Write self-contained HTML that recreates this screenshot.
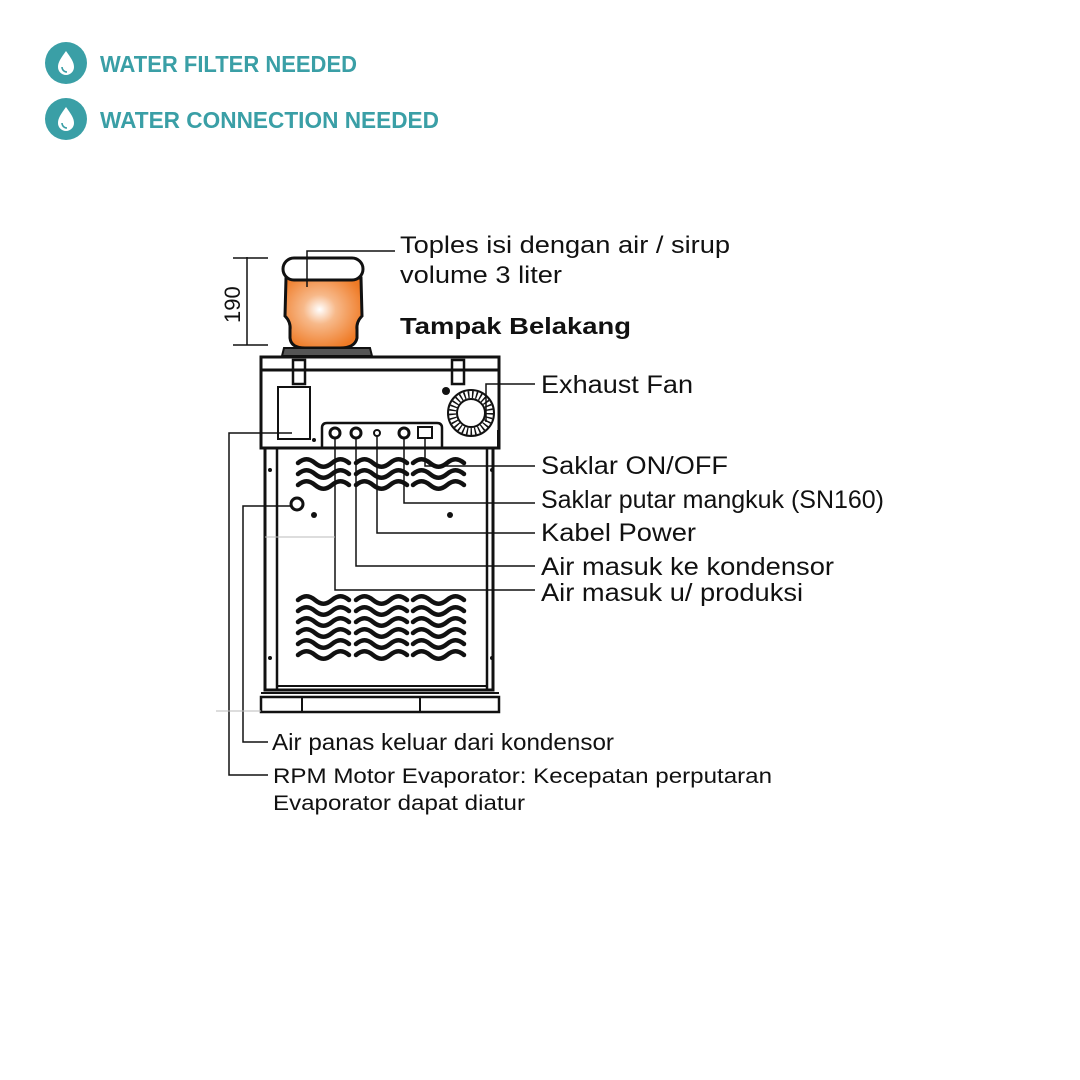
<!DOCTYPE html>
<html><head><meta charset="utf-8"><style>
html,body{margin:0;padding:0;background:#fff}
svg{display:block}
.t{font-family:"Liberation Sans",Arial,sans-serif;fill:#111}
.h{font-family:"Liberation Sans",sans-serif;font-weight:bold;fill:#3a9fa6;font-size:23px}
</style></head><body>
<svg width="1080" height="1080" viewBox="0 0 1080 1080" xmlns="http://www.w3.org/2000/svg">
<defs>
<radialGradient id="jg" cx="0.45" cy="0.45" r="0.6"><stop offset="0" stop-color="#fff"/><stop offset="0.35" stop-color="#f7b98a"/><stop offset="1" stop-color="#ef7a25"/></radialGradient>
<g id="drop"><path d="M0,-12 C5,-5 8,-1 8,4 A8,8 0 0 1 -8,4 C-8,-1 -5,-5 0,-12Z" fill="#fff"/><path d="M-4,4 A5,5 0 0 0 1,9" stroke="#3a9fa6" stroke-width="1.6" fill="none"/></g>
<g id="w"><path d="M0,0 c6,-5 11,-5 17,0 s11,5 17,0 s11,-5 17,0" fill="none" stroke="#111" stroke-width="4.5" stroke-linecap="round"/></g>
<g id="v3"><use href="#w" y="0"/><use href="#w" y="11"/><use href="#w" y="22"/></g>
<g id="v5"><use href="#w" y="0"/><use href="#w" y="11"/><use href="#w" y="22"/><use href="#w" y="33"/><use href="#w" y="44"/><use href="#w" y="55"/></g>
</defs>
<circle cx="66" cy="63" r="21" fill="#3a9fa6"/><use href="#drop" x="66" y="63"/>
<circle cx="66" cy="119" r="21" fill="#3a9fa6"/><use href="#drop" x="66" y="119"/>
<text class="h" x="100" y="72" textLength="257" lengthAdjust="spacingAndGlyphs">WATER FILTER NEEDED</text>
<text class="h" x="100" y="128" textLength="339" lengthAdjust="spacingAndGlyphs">WATER CONNECTION NEEDED</text>

<g stroke="#111" fill="none" stroke-width="1.5">
<line x1="247" y1="257" x2="247" y2="345"/><line x1="233" y1="258" x2="268" y2="258"/><line x1="233" y1="345" x2="268" y2="345"/>
</g>
<text class="t" font-size="22" transform="translate(240,323) rotate(-90)">190</text>
<!-- jar -->
<path d="M286,278 L361,278 L362,316 Q356,322 357,330 L357,338 Q355,348 340,348 L305,348 Q291,348 290,338 L290,330 Q291,322 285,316Z" fill="url(#jg)" stroke="#111" stroke-width="3"/>
<rect x="283" y="258" width="80" height="22" rx="11" fill="#fff" stroke="#111" stroke-width="3"/>
<path d="M284,348 L370,348 L372,356 L282,356Z" fill="#555" stroke="#111" stroke-width="2"/>
<!-- machine -->
<g stroke="#111" fill="none" stroke-width="3">
<rect x="261" y="357" width="238" height="91"/>
<line x1="261" y1="370" x2="499" y2="370"/>
<rect x="278" y="387" width="32" height="52" stroke-width="2"/>
<path d="M322,448 L322,428 Q322,423 327,423 L437,423 Q442,423 442,428 L442,448" stroke-width="2.5"/>
<circle cx="335" cy="433" r="5"/><circle cx="356" cy="433" r="5"/><circle cx="377" cy="433" r="3" stroke-width="2"/><circle cx="404" cy="433" r="5"/>
<rect x="418" y="427" width="14" height="11" stroke-width="2"/>
<circle cx="471" cy="413" r="23" stroke-width="2"/>
<circle cx="471" cy="413" r="18.5" stroke-width="7" stroke-dasharray="1.5 2.5"/>
<circle cx="471" cy="413" r="14" stroke-width="2"/>
<line x1="498" y1="430" x2="498" y2="448" stroke-width="2"/>
<rect x="293" y="360" width="12" height="24" stroke-width="2.5"/><rect x="452" y="360" width="12" height="24" stroke-width="2.5"/>
<path d="M265,448 L265,690 L493,690 L493,448" />
<line x1="277" y1="448" x2="277" y2="690" stroke-width="2.5"/>
<line x1="487" y1="448" x2="487" y2="690" stroke-width="2.5"/>
<line x1="277" y1="686" x2="487" y2="686" stroke-width="2"/>
<rect x="261" y="697" width="238" height="15" stroke-width="2.5"/>
<line x1="261" y1="693" x2="499" y2="693" stroke-width="2"/>
<line x1="302" y1="697" x2="302" y2="712" stroke-width="2"/><line x1="420" y1="697" x2="420" y2="712" stroke-width="2"/>
<circle cx="297" cy="504" r="6" stroke-width="3"/>
</g>
<g fill="#111"><circle cx="314" cy="515" r="3"/><circle cx="450" cy="515" r="3"/><circle cx="270" cy="470" r="2"/><circle cx="492" cy="470" r="2"/><circle cx="270" cy="658" r="2"/><circle cx="492" cy="658" r="2"/><circle cx="446" cy="391" r="4"/><circle cx="314" cy="440" r="2"/></g>
<use href="#v3" x="298" y="463"/><use href="#v3" x="356" y="463"/><use href="#v3" x="413" y="463"/>
<use href="#v5" x="298" y="600"/><use href="#v5" x="356" y="600"/><use href="#v5" x="413" y="600"/>
<g stroke="#111" fill="none" stroke-width="1.5">
<path d="M307,287 L307,251 L395,251"/>
<path d="M486,422 L486,384 L535,384"/>
<path d="M425,438 L425,466 L535,466"/>
<path d="M404,438 L404,503 L535,503"/>
<path d="M377,436 L377,533 L535,533"/>
<path d="M356,438 L356,566 L535,566"/>
<path d="M335,438 L335,590 L535,590"/>
<path d="M291,506 L243,506 L243,742 L268,742"/>
<path d="M292,433 L229,433 L229,775 L268,775"/>
</g>
<g stroke="#bbb" stroke-width="1"><line x1="216" y1="711" x2="261" y2="711"/><line x1="265" y1="537" x2="335" y2="537"/></g>
<text class="t" font-size="24" x="400" y="253" textLength="330" lengthAdjust="spacingAndGlyphs">Toples isi dengan air / sirup</text>
<text class="t" font-size="24" x="400" y="283" textLength="162" lengthAdjust="spacingAndGlyphs">volume 3 liter</text>
<text class="t" font-size="23" font-weight="bold" x="400" y="334" textLength="231" lengthAdjust="spacingAndGlyphs">Tampak Belakang</text>
<g class="t" font-size="25">
<text x="541" y="393" textLength="152" lengthAdjust="spacingAndGlyphs">Exhaust Fan</text>
<text x="541" y="474" textLength="187" lengthAdjust="spacingAndGlyphs">Saklar ON/OFF</text>
<text x="541" y="508" textLength="343" lengthAdjust="spacingAndGlyphs">Saklar putar mangkuk (SN160)</text>
<text x="541" y="541" textLength="155" lengthAdjust="spacingAndGlyphs">Kabel Power</text>
<text x="541" y="575" textLength="293" lengthAdjust="spacingAndGlyphs">Air masuk ke kondensor</text>
<text x="541" y="601" textLength="262" lengthAdjust="spacingAndGlyphs">Air masuk u/ produksi</text>
</g>
<text class="t" font-size="23" x="272" y="750" textLength="342" lengthAdjust="spacingAndGlyphs">Air panas keluar dari kondensor</text>
<text class="t" font-size="21" x="273" y="783" textLength="499" lengthAdjust="spacingAndGlyphs">RPM Motor Evaporator: Kecepatan perputaran</text>
<text class="t" font-size="21" x="273" y="810" textLength="252" lengthAdjust="spacingAndGlyphs">Evaporator dapat diatur</text>
</svg>
</body></html>
